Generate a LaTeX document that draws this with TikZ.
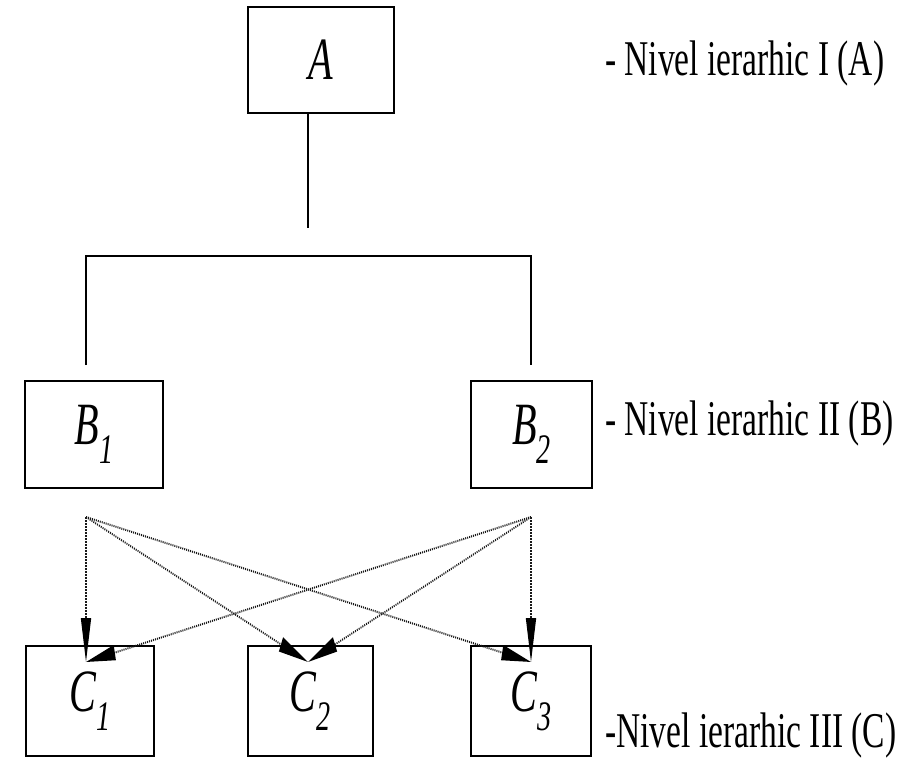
\documentclass[tikz,border=0pt]{standalone}
\usepackage{fontspec}
\setmainfont{Liberation Serif}
\usetikzlibrary{arrows.meta}
\begin{document}
\begin{tikzpicture}[x=1pt,y=-1pt,
  box/.style={draw,line width=1.6pt,inner sep=0pt,
    font=\fontsize{60}{60}\selectfont},
  lvl/.style={anchor=base west,inner sep=0pt,
    font=\fontsize{50}{50}\selectfont},
  link/.style={line width=1.3pt},
  dep/.style={line width=2pt,black!90,dash pattern=on 1.5pt off 1.5pt,
    -{Triangle[length=44pt,width=15pt,black]}}]
\useasboundingbox (0,0) rectangle (919,764);
\newcommand{\nm}[2]{\scalebox{0.67}[1]{\textit{#1}\textsubscript{\textit{#2}}}}
% boxes
\node[box,minimum width=146pt,minimum height=106pt] (A) at (321,60) {\scalebox{0.67}[1]{\textit{A}}};
\node[box,minimum width=138pt,minimum height=107pt] (B1) at (94,434.5) {\nm{B}{1}};
\node[box,minimum width=121pt,minimum height=107pt] (B2) at (531.5,434.5) {\nm{B}{2}};
\node[box,minimum width=128pt,minimum height=110pt] (C1) at (90,701) {\nm{C}{1}};
\node[box,minimum width=125pt,minimum height=110pt] (C2) at (310.5,701) {\nm{C}{2}};
\node[box,minimum width=120pt,minimum height=110pt] (C3) at (531,701) {\nm{C}{3}};
% level labels
\node[lvl] (L1) at (605,75) {\scalebox{0.67}[1]{- Nivel ierarhic I (A)}};
\node[lvl] (L2) at (605,435) {\scalebox{0.67}[1]{- Nivel ierarhic II (B)}};
\node[lvl] (L3) at (605,747) {\scalebox{0.67}[1]{-Nivel ierarhic III (C)}};
% tree connectors
\coordinate (a1) at (308,228);
\coordinate (h1) at (86,256);
\coordinate (h2) at (531,256);
\coordinate (b1) at (86,365);
\coordinate (b2) at (531,365);
\draw[link] (A.south -| a1) -- (a1);
\draw[link] (b1) -- (h1) -- (h2) -- (b2);
% dependency arrows (drawn in the horizontally squeezed frame of the figure)
\begin{scope}[transform canvas={xscale=0.67}]
\coordinate (s1) at (128.36,517);
\coordinate (s2) at (792.54,517);
\coordinate (t1) at (128.36,662);
\coordinate (t2) at (459.70,662);
\coordinate (t3) at (792.54,662);
\foreach \s in {s1,s2}{
  \foreach \t in {t1,t2,t3}{
    \draw[dep] (\s) -- (\t);
  }
}
\end{scope}
\end{tikzpicture}
\end{document}
